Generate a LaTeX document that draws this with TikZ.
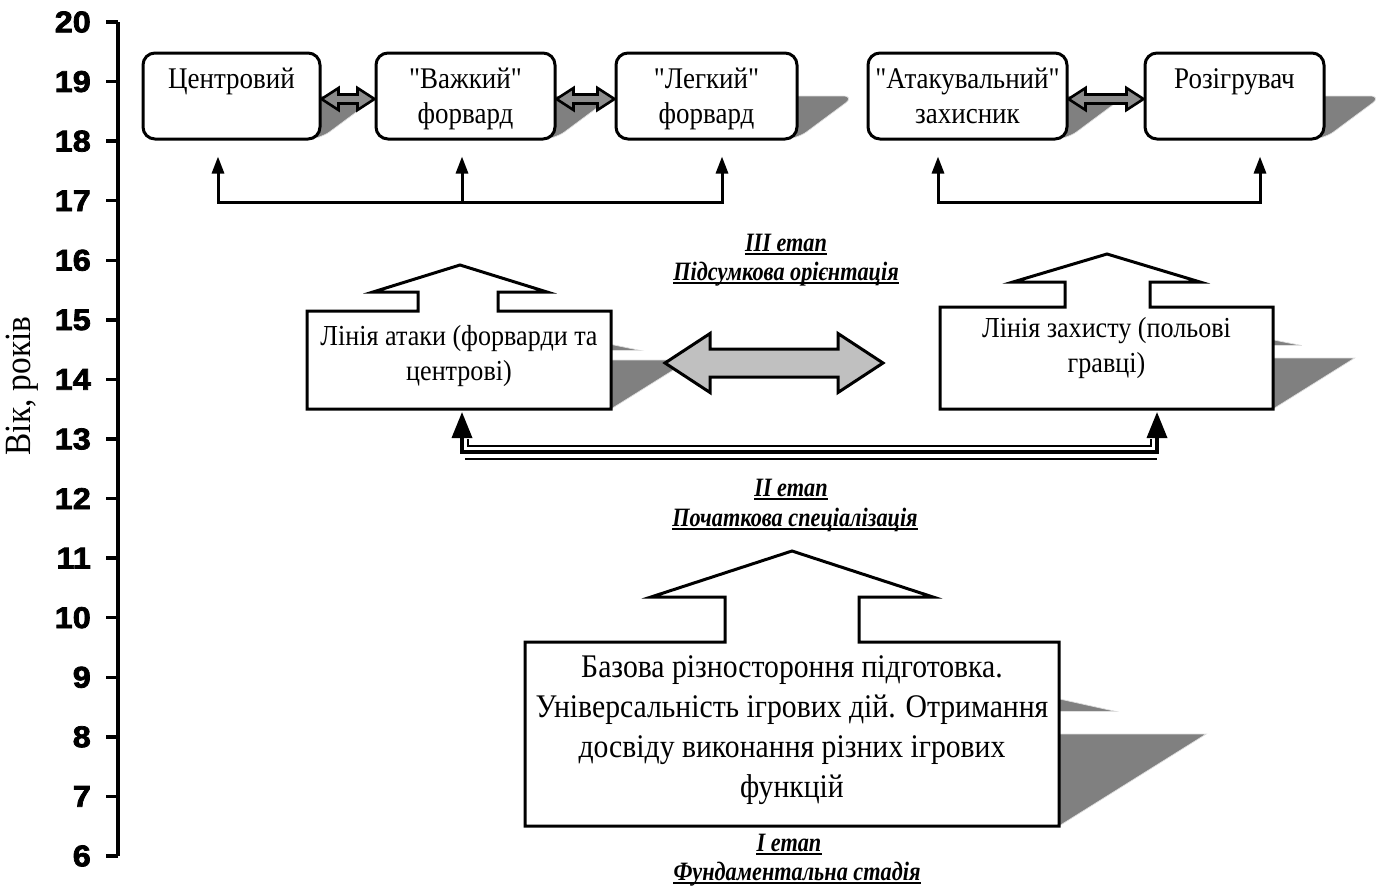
\documentclass[tikz,border=0pt]{standalone}
\usepackage{fontspec}
\setmainfont{Liberation Serif}[FakeStretch=0.9,Ligatures=TeXOff]
\newfontfamily\stagefont{Liberation Serif}[FakeStretch=0.84,Ligatures=TeXOff]
\newfontfamily\axisfont{Liberation Sans}[FakeBold=2.5,FakeStretch=1.08]
\usetikzlibrary{arrows.meta,calc}
\definecolor{shgray}{HTML}{808080}
\definecolor{lightfill}{HTML}{C0C0C0}
\definecolor{midfill}{HTML}{8C8C8C}

\newcommand\dblarrow[6]{%
  \path[#1] let \p1=(#2), \p2=(#3) in
   (\x1,\y1) -- (\x1+#4,\y1+#5) -- (\x1+#4,\y1+#6) -- (\x2-#4,\y1+#6) -- (\x2-#4,\y1+#5)
   -- (\x2,\y1) -- (\x2-#4,\y1-#5) -- (\x2-#4,\y1-#6) -- (\x1+#4,\y1-#6) -- (\x1+#4,\y1-#5) -- cycle;}

\tikzset{
  shade/.style={fill=shgray, draw=white!75!shgray, line width=0.7pt},
  rbox/.style={draw, fill=white, line width=3pt, rounded corners=12pt, inner sep=0pt},
  hidden/.style={inner sep=0pt, outer sep=0pt},
  callout/.style={draw, fill=white, line width=3pt, line join=miter},
  toptext/.style={font=\fontsize{30}{35}\selectfont, align=center, inner sep=0pt, anchor=north},
  boxtext/.style={font=\fontsize{29}{35}\selectfont, align=center, inner sep=0pt, anchor=north},
  bigtext/.style={font=\fontsize{33}{40}\selectfont, align=center, inner sep=0pt, anchor=north},
  stage/.style={font=\stagefont\fontsize{26.5}{30}\selectfont\bfseries\itshape, inner sep=0pt, anchor=base},
  numlab/.style={font=\axisfont\bfseries\fontsize{30}{36}\selectfont, inner sep=0pt, anchor=east},
  conn/.style={line width=3pt, line join=miter},
  tip/.style={-{Triangle[width=12pt,length=17pt]}},
  tips/.style={{Triangle[width=12pt,length=17pt]}-{Triangle[width=12pt,length=17pt]}},
  smallarrow/.style={draw, fill=midfill, line width=2.6pt, line join=miter},
  bigarrow/.style={draw, fill=lightfill, line width=3pt, line join=miter},
  Lshape/.style={insert path={(307,409) -- (307,311) -- (418,311) -- (418,292) -- (373,292) -- (460,265) -- (547,292) -- (498,292) -- (498,311) -- (611,311) -- (611,409) -- cycle}},
  Rshape/.style={insert path={(940,409) -- (940,307) -- (1065,307) -- (1065,282) -- (1013,282) -- (1107,254) -- (1200,282) -- (1150,282) -- (1150,307) -- (1273,307) -- (1273,409) -- cycle}},
  Bshape/.style={insert path={(525,826) -- (525,642) -- (725,642) -- (725,597) -- (651,597) -- (792,551) -- (933,597) -- (859,597) -- (859,642) -- (1059,642) -- (1059,826) -- cycle}},
}

\begin{document}
\begin{tikzpicture}[x=1pt,y=-1pt]
\useasboundingbox (0,0) rectangle (1378,889);

% ---- axis
\draw[line width=4pt] (118,22) -- (118,856);
\foreach \v in {6,...,20}{
  \pgfmathsetmacro\yy{22+(20-\v)*59.57}
  \draw[line width=3.5pt] (106,\yy) -- (118,\yy);
  \node[numlab] (n\v) at (91,\yy) {\v};
}
\node[font=\fontsize{37}{40}\selectfont, rotate=90, inner sep=0pt] (ylab) at (22,386) {Вік, років};

% ---- shadows
\begin{scope}[cm={1,0,0.674,0.5,(93.7pt,-69.5pt)}]
  \foreach \l/\r in {143/320, 376/555, 616/797, 868/1067, 1145/1324}
    \path[shade, rounded corners=12pt] (\l,53) rectangle (\r,139);
\end{scope}
\path[shade, cm={1,0,0.8,0.5,(327.2pt,-204.5pt)}, Lshape];
\path[shade, cm={1,0,0.8,0.5,(327.2pt,-204.5pt)}, Rshape];
\path[shade, cm={1,0,0.8,0.5,(660.8pt,-413pt)}, Bshape];

% ---- top row boxes
\node[rbox, minimum width=177pt, minimum height=86pt] (c1) at (231.5,96) {};
\node[rbox, minimum width=179pt, minimum height=86pt] (c2) at (465.5,96) {};
\node[rbox, minimum width=181pt, minimum height=86pt] (c3) at (706.5,96) {};
\node[rbox, minimum width=199pt, minimum height=86pt] (c4) at (967.5,96) {};
\node[rbox, minimum width=179pt, minimum height=86pt] (c5) at (1234.5,96) {};

\node[toptext] (c1t) at ([yshift=-12.5pt]c1.north) {\strut Центровий};
\node[toptext] (c2t) at ([yshift=-12.5pt]c2.north) {\strut "Важкий"\\\strut форвард};
\node[toptext] (c3t) at ([yshift=-12.5pt]c3.north) {\strut "Легкий"\\\strut форвард};
\node[toptext] (c4t) at ([yshift=-12.5pt]c4.north) {\strut "Атакувальний"\\\strut захисник};
\node[toptext] (c5t) at ([yshift=-12.5pt]c5.north) {\strut Розігрувач};

\dblarrow{smallarrow}{[yshift=-3pt]c1.east}{[yshift=-3pt]c2.west}{17pt}{11pt}{4.5pt}
\dblarrow{smallarrow}{[yshift=-3pt]c2.east}{[yshift=-3pt]c3.west}{17pt}{11pt}{4.5pt}
\dblarrow{smallarrow}{[yshift=-3pt]c4.east}{[yshift=-3pt]c5.west}{17pt}{11pt}{4.5pt}

% ---- tree connectors
\coordinate (t1) at ([xshift=-13.5pt,yshift=-16pt]c1.south);
\coordinate (t2) at ([xshift=-3.5pt,yshift=-16pt]c2.south);
\coordinate (t3) at ([xshift=15.5pt,yshift=-16pt]c3.south);
\coordinate (t4) at ([xshift=-29.5pt,yshift=-16pt]c4.south);
\coordinate (t5) at ([xshift=25.5pt,yshift=-16pt]c5.south);
\draw[conn, tips] (t1) -- ++(0,46) -| (t3);
\draw[conn, tip] ([yshift=-46pt]t2) -- (t2);
\draw[conn, tips] (t4) -- ++(0,46) -| (t5);

% ---- middle callouts
\path[callout, Lshape];
\path[callout, Rshape];
\node[hidden, minimum width=304pt, minimum height=98pt] (L) at (459,360) {};
\node[hidden, minimum width=333pt, minimum height=102pt] (R) at (1106.5,358) {};
\node[boxtext] (Lt) at (459,320.5) {\strut Лінія атаки (форварди та\\\strut центрові)};
\node[boxtext] (Rt) at (1106.5,312.5) {\strut Лінія захисту (польові\\\strut гравці)};

\dblarrow{bigarrow}{[xshift=54pt,yshift=-3pt]L.east}{[xshift=-57pt,yshift=-3pt]R.west}{45pt}{29.5pt}{14pt}

% ---- compound connector
\coordinate (u1) at ([xshift=3pt,yshift=-3pt]L.south);
\coordinate (u2) at ([xshift=50.5pt,yshift=-3pt]R.south);
\draw[line width=3.5pt, line join=miter, {Triangle[width=20pt,length=26pt]}-{Triangle[width=20pt,length=26pt]}] (u1) -- ++(0,40) -| (u2);
\draw[line width=1.2pt] ([xshift=6pt,yshift=-27pt]u1) |- ([xshift=-6pt,yshift=-34pt]u2) -- ([xshift=-6pt,yshift=-27pt]u2);
\draw[line width=1.2pt] ([xshift=3pt,yshift=-47pt]u1) -- ([yshift=-47pt]u2);

% ---- bottom callout
\path[callout, Bshape];
\node[hidden, minimum width=534pt, minimum height=184pt] (B) at (792,734) {};
\node[bigtext] (Bt) at (792,649) {\strut Базова різностороння підготовка.\\\strut Універсальність ігрових дій. Отримання\\\strut досвіду виконання різних ігрових\\\strut функцій};

% ---- stage labels
\node[stage] (s3a) at (786,251) {III етап};
\node[stage] (s3b) at (786,280) {Підсумкова орієнтація};
\node[stage] (s2a) at (791,496) {II етап};
\node[stage] (s2b) at (795,526) {Початкова спеціалізація};
\node[stage] (s1a) at (789,851) {I етап};
\node[stage] (s1b) at (797,880) {Фундаментальна стадія};
\foreach \s in {s3a,s3b,s2a,s2b,s1a,s1b}
  \draw[line width=2pt] ([yshift=-3pt]\s.base west) -- ([yshift=-3pt]\s.base east);
\end{tikzpicture}
\end{document}
